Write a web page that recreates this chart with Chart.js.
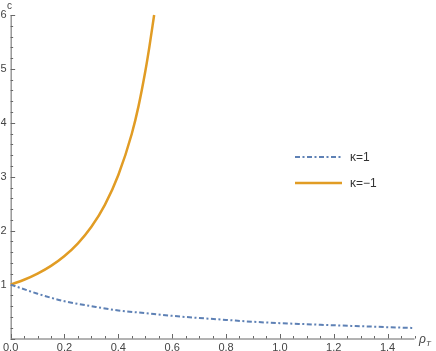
<!DOCTYPE html>
<html>
<head>
<meta charset="utf-8">
<script src="https://cdn.jsdelivr.net/npm/chart.js@4/dist/chart.umd.min.js"></script>
<style>
  html, body { margin: 0; padding: 0; background: #fff; }
  #wrap { width: 436px; height: 351px; position: relative; }
</style>
</head>
<body>
<div id="wrap"><canvas id="plot"></canvas></div>
<script>
// values
const rhoPos = [0, 0.1, 0.2, 0.3, 0.4, 0.5, 0.6, 0.7, 0.8, 0.9, 1.0, 1.1, 1.2, 1.3, 1.4, 1.5];
const cPos   = [1, 0.83, 0.69, 0.6, 0.52, 0.47, 0.42, 0.38, 0.345, 0.31, 0.285, 0.265, 0.245, 0.228, 0.21, 0.195];

const rhoNeg = [0, 0.05, 0.1, 0.15, 0.2, 0.25, 0.3, 0.35, 0.4, 0.45, 0.475, 0.5, 0.515, 0.533];
const cNeg   = [1, 1.09, 1.204, 1.347, 1.53, 1.765, 2.071, 2.479, 3.033, 3.798, 4.31, 4.951, 5.4, 6.0];

const seriesLabels = ['κ=1', 'κ=−1'];
const xTicks = [0, 0.2, 0.4, 0.6, 0.8, 1.0, 1.2, 1.4];
const yTicks = [1, 2, 3, 4, 5, 6];

const blue = '#5e81b5';
const orange = '#e19c24';
const axisGray = '#666';
const textGray = '#444';

const toPts = (xs, ys) => xs.map((v, i) => ({ x: v, y: ys[i] }));

// axes drawn Mathematica style: lines with inward major/minor ticks
const axesPlugin = {
    id: 'axesPlugin',
    beforeDatasetsDraw(chart) {
        const { ctx, scales: { x, y } } = chart;
        const x0 = x.getPixelForValue(0), x1 = x.getPixelForValue(1.5);
        const y0 = y.getPixelForValue(0), y1 = y.getPixelForValue(6);
        ctx.save();
        ctx.strokeStyle = axisGray;
        ctx.lineWidth = 1;
        ctx.beginPath();
        ctx.moveTo(x0, y0 + 0.5); ctx.lineTo(x1, y0 + 0.5);
        ctx.moveTo(x0 + 0.5, y0); ctx.lineTo(x0 + 0.5, y1);
        // x ticks every 0.05, major every 0.2
        for (let i = 0; i <= 30; i++) {
            const px = Math.round(x.getPixelForValue(i * 0.05)) + 0.5;
            const len = (i % 4 === 0) ? 4.5 : 2.5;
            ctx.moveTo(px, y0); ctx.lineTo(px, y0 - len);
        }
        // y ticks every 0.2, major every 1
        for (let i = 0; i <= 30; i++) {
            const py = Math.round(y.getPixelForValue(i * 0.2)) + 0.5;
            const len = (i % 5 === 0) ? 4.5 : 2.5;
            ctx.moveTo(x0, py); ctx.lineTo(x0 + len, py);
        }
        ctx.stroke();

        // axis labels
        ctx.fillStyle = textGray;
        ctx.font = '10px "Liberation Sans"';
        ctx.textBaseline = 'alphabetic';
        ctx.fillText('c', 7, 9);
        ctx.font = 'italic 12px "Liberation Sans"';
        ctx.fillText('ρ', 419, 343);
        ctx.font = 'italic 8px "Liberation Sans"';
        ctx.fillText('T', 426, 346);
        ctx.restore();
    },
    afterDraw(chart) {
        const { ctx } = chart;
        ctx.save();
        const rows = [157, 183];
        chart.data.datasets.forEach((ds, i) => {
            ctx.strokeStyle = ds.borderColor;
            ctx.lineWidth = ds.borderWidth;
            ctx.setLineDash(ds.borderDash || []);
            ctx.beginPath();
            ctx.moveTo(295, rows[i]);
            ctx.lineTo(342, rows[i]);
            ctx.stroke();
            ctx.setLineDash([]);
            ctx.fillStyle = '#333';
            ctx.font = '12px "Liberation Sans"';
            ctx.textBaseline = 'middle';
            ctx.fillText(ds.label, 350, rows[i] + 1);
        });
        ctx.restore();
    }
};

new Chart(document.getElementById('plot'), {
    type: 'line',
    data: {
        datasets: [
            {
                label: seriesLabels[0],
                data: toPts(rhoPos, cPos),
                borderColor: blue,
                borderWidth: 2,
                borderDash: [5, 2.5, 2, 2.5],
                pointRadius: 0,
                cubicInterpolationMode: 'monotone',
                fill: false
            },
            {
                label: seriesLabels[1],
                data: toPts(rhoNeg, cNeg),
                borderColor: orange,
                borderWidth: 2.5,
                pointRadius: 0,
                cubicInterpolationMode: 'monotone',
                fill: false,
                clip: false
            }
        ]
    },
    options: {
        responsive: true,
        maintainAspectRatio: false,
        animation: false,
        layout: { padding: { left: 0, right: 21.5, top: 15, bottom: 0 } },
        plugins: {
            legend: { display: false },
            tooltip: { enabled: false }
        },
        scales: {
            x: {
                type: 'linear',
                min: 0,
                max: 1.5,
                afterBuildTicks: s => { s.ticks = xTicks.map(v => ({ value: v })); },
                afterFit: s => { s.height = 12.5; },
                grid: { display: false, drawTicks: false },
                border: { display: false },
                ticks: {
                    padding: 3,
                    maxRotation: 0,
                    autoSkip: false,
                    color: textGray,
                    font: { family: 'Liberation Sans', size: 11 },
                    callback: v => v.toFixed(1)
                }
            },
            y: {
                type: 'linear',
                min: 0,
                max: 6,
                afterBuildTicks: s => { s.ticks = yTicks.map(v => ({ value: v })); },
                afterFit: s => { s.width = 10; },
                grid: { display: false, drawTicks: false },
                border: { display: false },
                ticks: {
                    padding: 4,
                    color: textGray,
                    font: { family: 'Liberation Sans', size: 11 },
                    callback: v => String(v)
                }
            }
        }
    },
    plugins: [axesPlugin]
});
</script>
</body>
</html>
